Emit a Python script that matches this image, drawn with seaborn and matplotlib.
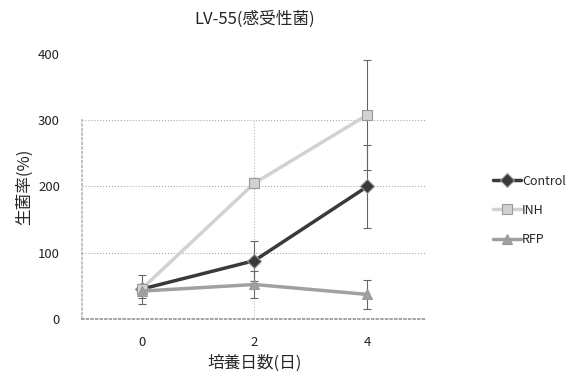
import matplotlib
matplotlib.use('Agg')
import numpy as np
import pandas as pd
import matplotlib.pyplot as plt
import seaborn as sns

days = [0, 2, 4]
series = ['Control', 'INH', 'RFP']
control = [45, 88, 200]
control_err = [22, 30, 63]
inh = [45, 205, 308]
inh_err = [8, 8, 83]
rfp = [42, 52, 37]
rfp_err = [10, 20, 22]

df = pd.DataFrame({
    'day': days * 3,
    'value': control + inh + rfp,
    'err': control_err + inh_err + rfp_err,
    'series': [s for s in series for _ in days],
})

sns.set_theme(style='white')
plt.rcParams['font.family'] = ['Noto Sans CJK JP', 'DejaVu Sans']

colors = {'Control': '#3a3a3a', 'INH': '#d2d2d2', 'RFP': '#a0a0a0'}
markers = {'Control': 'D', 'INH': 's', 'RFP': '^'}

fig = plt.figure(figsize=(5.79, 3.77), dpi=100)
ax = fig.add_axes([0.142, 0.154, 0.595, 0.703])

# error bars first so markers sit on top
for s in series:
    d = df[df['series'] == s]
    ax.errorbar(d['day'], d['value'], yerr=d['err'], fmt='none',
                ecolor='#666666', elinewidth=0.8, capsize=3, capthick=0.8, zorder=2)

sns.lineplot(data=df, x='day', y='value', hue='series', style='series',
             palette=colors, markers=markers, dashes=False, linewidth=2.5,
             markersize=7, markeredgecolor='#999999', markeredgewidth=0.8,
             ax=ax, zorder=3)

ax.set_xlim(-1.05, 5.05)
ax.set_ylim(0, 400)
ax.set_xticks(days)
ax.set_yticks([0, 100, 200, 300, 400])
ax.tick_params(labelsize=9.5, colors='#222222', length=0)
ax.tick_params(axis='y', pad=16)
ax.tick_params(axis='x', pad=12)
for yv in [100, 200, 300]:
    ax.axhline(yv, linestyle=':', color='#aaaaaa', linewidth=0.8, zorder=1)
ax.axvline(2, ymax=0.75, linestyle=':', color='#bbbbbb', linewidth=0.8, zorder=1)
for side in ['top', 'right']:
    ax.spines[side].set_visible(False)
ax.spines['left'].set_bounds(0, 300)
ax.spines['left'].set_linestyle(':')
ax.spines['left'].set_color('#bbbbbb')
ax.spines['bottom'].set_linestyle(':')
ax.spines['bottom'].set_color('#999999')

ax.set_title('LV-55(感受性菌)', fontsize=12, pad=22)
ax.set_xlabel('培養日数(日)', fontsize=12, labelpad=4)
ax.set_ylabel('生菌率(%)', fontsize=12, labelpad=4)

ax.legend(title=None, frameon=False, loc='center left', bbox_to_anchor=(1.16, 0.41),
          fontsize=9, handlelength=2.2, handletextpad=0.1, labelspacing=1.3)

fig.savefig('out.png', dpi=100)
